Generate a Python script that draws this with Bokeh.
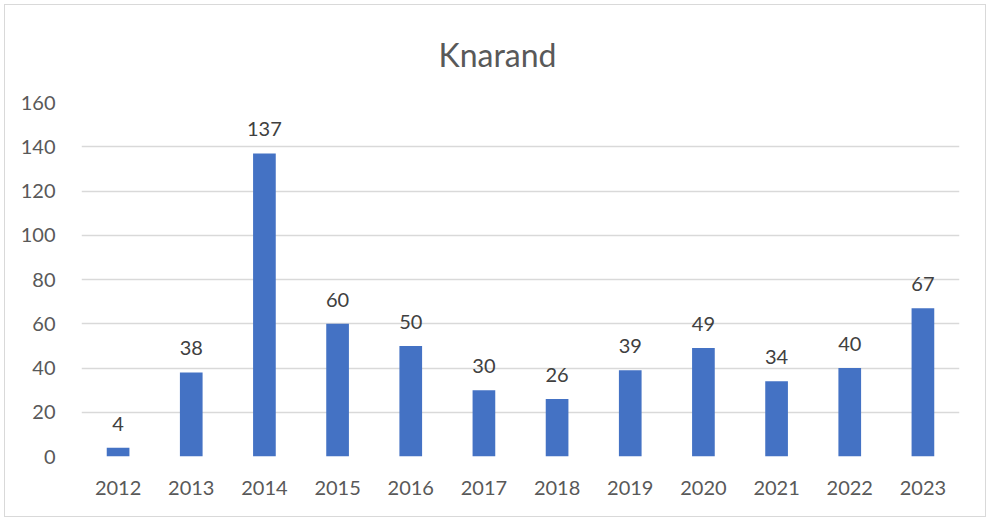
from bokeh.plotting import figure
from bokeh.models import ColumnDataSource, FactorRange, SingleIntervalTicker, LabelSet
from bokeh.core.properties import value
from bokeh.embed import file_html
from bokeh.resources import INLINE

years = ["2012", "2013", "2014", "2015", "2016", "2017", "2018", "2019", "2020", "2021", "2022", "2023"]
counts = [4, 38, 137, 60, 50, 30, 26, 39, 49, 34, 40, 67]
title_text = "Knarand"

FONT = "Lato"
TXT = "#595959"

src = ColumnDataSource(dict(x=years, top=counts, label=[str(v) for v in counts]))

p = figure(width=982, height=513, x_range=FactorRange(*years, range_padding=0),
           y_range=(0, 160), output_backend="svg", toolbar_location=None,
           min_border_left=76, min_border_right=28, min_border_top=97, min_border_bottom=62)

p.vbar(x="x", top="top", width=0.31, source=src, color="#4472C4", line_color=None)

labels = LabelSet(x="x", y="top", text="label", source=src, text_align="center",
                  text_baseline="bottom", y_offset=17, text_font=value(FONT),
                  text_font_size="20px", text_color="#404040")
p.add_layout(labels)

p.title.text = title_text
p.title.align = "left"
p.title.offset = 357
p.title.vertical_align = "top"
p.title.text_font = FONT
p.title.text_font_size = "32px"
p.title.text_font_style = "normal"
p.title.text_color = TXT
p.title.standoff = 54

p.yaxis.ticker = SingleIntervalTicker(interval=20)
for ax in (p.xaxis[0], p.yaxis[0]):
    ax.axis_line_color = None
    ax.major_tick_line_color = None
    ax.minor_tick_line_color = None
    ax.major_label_text_font = FONT
    ax.major_label_text_font_size = "20px"
    ax.major_label_text_color = TXT
p.yaxis.major_label_standoff = 20
p.xaxis.major_label_standoff = 18

p.xgrid.grid_line_color = None
p.ygrid.grid_line_color = "#d9d9d9"
p.ygrid.grid_line_width = 1.5
p.outline_line_color = None
p.styles = {"border": "1px solid #d9d9d9", "box-sizing": "border-box", "margin": "4px 0 0 4px"}

open("out.html", "w").write(file_html(p, INLINE))
